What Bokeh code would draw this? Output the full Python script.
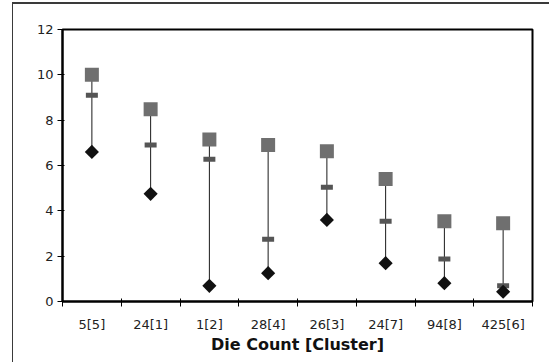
import numpy as np
from bokeh.plotting import figure
from bokeh.models import FixedTicker, Range1d
from bokeh.embed import file_html
from bokeh.resources import INLINE

# ---- data ----
categories = ["5[5]", "24[1]", "1[2]", "28[4]", "26[3]", "24[7]", "94[8]", "425[6]"]
high_vals = [10.0, 8.48, 7.15, 6.9, 6.63, 5.4, 3.54, 3.45]
mid_vals = [9.1, 6.9, 6.28, 2.75, 5.04, 3.54, 1.87, 0.69]
low_vals = [6.6, 4.75, 0.69, 1.25, 3.6, 1.69, 0.81, 0.43]
y_ticks = [0, 2, 4, 6, 8, 10, 12]

n = len(categories)
xs = [i + 0.5 for i in range(n)]

p = figure(
    output_backend="svg", toolbar_location=None,
    width=549, height=362,
    x_range=Range1d(0, n), y_range=Range1d(0, 12),
    min_border_left=62, min_border_top=29, min_border_right=17, min_border_bottom=61,
)

p.grid.visible = False
p.background_fill_color = "white"
p.border_fill_color = None
p.outline_line_color = "black"
p.outline_line_width = 2
p.outline_line_alpha = 1.0

# outer chart border drawn as CSS background lines behind the transparent canvas border
p.styles = {
    "background-color": "white",
    "background-image": "linear-gradient(#3a3a3a, #3a3a3a), linear-gradient(#3a3a3a, #3a3a3a)",
    "background-size": "1px 100%, 100% 2px",
    "background-position": "12px 3px, 12px 2px",
    "background-repeat": "no-repeat",
}

# segments
p.segment(x0=xs, y0=low_vals, x1=xs, y1=high_vals, line_color="#1a1a1a", line_width=1)
# high: gray squares
p.scatter(xs, high_vals, marker="square", size=14, fill_color="#6f6f6f", line_color=None)
# mid: dark dash
p.rect(xs, mid_vals, width=12, height=5, width_units="screen", height_units="screen",
       fill_color="#555555", line_color=None)
# low: black diamonds
p.scatter(xs, low_vals, marker="square", angle=np.pi / 4, size=10, fill_color="#111111", line_color=None)

font = "DejaVu Sans"

# y axis
ya = p.yaxis[0]
ya.ticker = FixedTicker(ticks=y_ticks, minor_ticks=[])
ya.axis_line_width = 2
ya.axis_line_color = "black"
ya.major_tick_in = 2
ya.major_tick_out = 5
ya.major_tick_line_color = "black"
ya.minor_tick_line_color = None
ya.major_label_standoff = 4
ya.major_label_text_font = font
ya.major_label_text_font_size = "13px"
ya.major_label_text_color = "#222222"

# x axis: ticks at boundaries, labels at centers
xa = p.xaxis[0]
xa.ticker = FixedTicker(ticks=xs, minor_ticks=list(range(n + 1)))
xa.major_label_overrides = {x: c for x, c in zip(xs, categories)}
xa.axis_line_width = 2
xa.axis_line_color = "black"
xa.major_tick_in = 0
xa.major_tick_out = 0
xa.minor_tick_in = 3
xa.minor_tick_out = 5
xa.minor_tick_line_color = "black"
xa.major_label_standoff = 10
xa.major_label_text_font = font
xa.major_label_text_font_size = "13px"
xa.major_label_text_color = "#222222"
xa.axis_label = "Die Count [Cluster]"
xa.axis_label_text_font = font
xa.axis_label_text_font_style = "bold"
xa.axis_label_text_font_size = "16px"
xa.axis_label_text_color = "#111111"
xa.axis_label_standoff = 0

open("out.html", "w").write(file_html(p, INLINE))
